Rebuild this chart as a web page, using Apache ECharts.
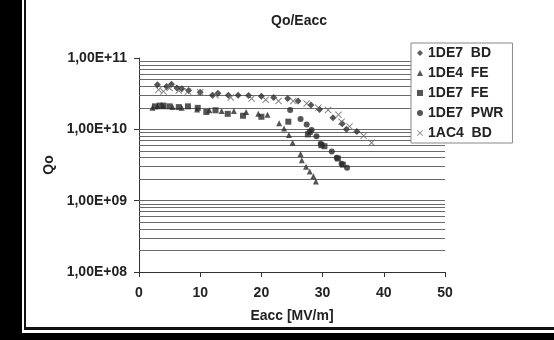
<!DOCTYPE html>
<html><head><meta charset="utf-8">
<script src="https://cdn.jsdelivr.net/npm/echarts@6/dist/echarts.min.js"></script>
<style>html,body{margin:0;padding:0;background:#fff}#c{width:554px;height:340px}</style>
</head><body><div id="c"></div>
<script>
// ---- data ----
const xTicks = [0, 10, 20, 30, 40, 50];
const yTickLabels = {8: '1,00E+08', 9: '1,00E+09', 10: '1,00E+10', 11: '1,00E+11'};
const seriesNames = ['1DE7  BD', '1DE4  FE', '1DE7  FE', '1DE7  PWR', '1AC4  BD'];

const bdDE7_E = [3.0, 4.5, 5.3, 6.2, 7.0, 8.1, 10.0, 12.0, 12.9, 14.6, 16.2, 17.9, 20.0, 22.0, 24.3, 26.0, 28.1, 29.5, 31.7, 33.2, 33.9, 35.6];
const bdDE7_Q = [4.2e10, 4.0e10, 4.3e10, 3.8e10, 3.7e10, 3.5e10, 3.3e10, 3.0e10, 3.2e10, 3.0e10, 3.0e10, 2.97e10, 2.9e10, 2.8e10, 2.7e10, 2.5e10, 2.2e10, 1.9e10, 1.45e10, 1.2e10, 1.0e10, 9.3e9];

const feDE4_E = [2.2, 3.0, 4.0, 5.5, 7.0, 9.5, 11.5, 13.5, 15.5, 17.5, 19.5, 21.0, 22.9, 23.7, 24.5, 25.1, 26.4, 26.6, 27.3, 27.9, 28.5, 28.9];
const feDE4_Q = [2.0e10, 2.1e10, 2.1e10, 2.05e10, 2.0e10, 1.9e10, 1.85e10, 1.8e10, 1.8e10, 1.75e10, 1.65e10, 1.6e10, 1.22e10, 1.03e10, 8.3e9, 6.5e9, 4.5e9, 3.7e9, 3.0e9, 2.57e9, 2.2e9, 1.86e9];

const feDE7_E = [2.6, 3.4, 4.0, 5.0, 6.5, 8.0, 9.6, 11.0, 12.5, 14.5, 17.0, 20.0, 24.4, 27.6, 27.9, 29.8, 30.3, 32.5, 33.3];
const feDE7_Q = [2.1e10, 2.15e10, 2.15e10, 2.1e10, 2.05e10, 2.1e10, 2.0e10, 1.75e10, 1.85e10, 1.65e10, 1.55e10, 1.5e10, 1.28e10, 8.5e9, 9.2e9, 6.0e9, 5.8e9, 3.9e9, 3.2e9];

const pwrDE7_E = [24.7, 26.4, 27.4, 28.2, 29.0, 29.7, 31.5, 32.3, 33.1, 34.0];
const pwrDE7_Q = [1.86e10, 1.4e10, 1.17e10, 9.8e9, 8.0e9, 6.3e9, 4.9e9, 4.0e9, 3.3e9, 2.9e9];

const bdAC4_E = [3.2, 4.0, 5.0, 6.5, 8.0, 10.0, 12.5, 15.0, 18.4, 20.7, 22.8, 25.2, 27.4, 29.3, 30.9, 32.6, 33.1, 34.4, 36.7, 38.0];
const bdAC4_Q = [3.6e10, 3.4e10, 3.8e10, 3.5e10, 3.4e10, 3.3e10, 3.0e10, 2.8e10, 2.7e10, 2.6e10, 2.5e10, 2.5e10, 2.3e10, 2.0e10, 1.87e10, 1.6e10, 1.28e10, 1.1e10, 8.1e9, 6.5e9];

const gridMultipliers = [2, 3, 4, 5, 6, 7, 8, 9];
const gridDecades = [8, 9, 10];
// ---- end data ----

const zip = (a, b) => a.map((v, i) => [v, b[i]]);
const gridVals = [];
gridDecades.forEach(d => gridMultipliers.forEach(m => gridVals.push(m * Math.pow(10, d))));
gridVals.push(1e9, 1e10);

const xPath = 'path://M0,1 L1,0 L5,4 L9,0 L10,1 L6,5 L10,9 L9,10 L5,6 L1,10 L0,9 L4,5 Z';
const font = '"Liberation Sans", Arial, sans-serif';

const chart = echarts.init(document.getElementById('c'), null, {renderer: 'canvas'});
chart.setOption({
  animation: false,
  backgroundColor: '#fff',
  graphic: [
    {type: 'rect', shape: {x: 0, y: 0, width: 22, height: 340}, style: {fill: '#000'}, z: 100},
    {type: 'rect', shape: {x: 24, y: 0, width: 2, height: 330}, style: {fill: '#111'}, z: 100},
    {type: 'rect', shape: {x: 24, y: 327, width: 530, height: 3}, style: {fill: '#111'}, z: 100},
    {type: 'rect', shape: {x: 0, y: 333, width: 554, height: 7}, style: {fill: '#000'}, z: 100}
  ],
  title: {
    text: 'Qo/Eacc', left: 266, top: 9,
    textStyle: {fontFamily: font, fontSize: 14, fontWeight: 'bold', color: '#222'}
  },
  legend: {
    orient: 'vertical', left: 411, top: 43,
    padding: [3, 9, 3, 6], itemGap: 6, itemWidth: 6, itemHeight: 6,
    backgroundColor: '#fff', borderColor: '#888', borderWidth: 1,
    textStyle: {fontFamily: font, fontSize: 14, fontWeight: 'bold', color: '#222', lineHeight: 14},
    data: [
      {name: seriesNames[0], icon: 'diamond', itemStyle: {color: '#333'}},
      {name: seriesNames[1], icon: 'triangle'},
      {name: seriesNames[2], icon: 'rect'},
      {name: seriesNames[3], icon: 'circle'},
      {name: seriesNames[4], icon: xPath}
    ],
    z: 50
  },
  grid: {left: 139, right: 109, top: 58, bottom: 68},
  xAxis: {
    type: 'value', min: 0, max: 50, interval: 10,
    name: 'Eacc [MV/m]', nameLocation: 'middle', nameGap: 37,
    nameTextStyle: {fontFamily: font, fontSize: 14, fontWeight: 'bold', color: '#222'},
    axisLine: {lineStyle: {color: '#333', width: 1}},
    axisTick: {show: true, length: 5, lineStyle: {color: '#333'}},
    axisLabel: {margin: 14, fontFamily: font, fontSize: 14, fontWeight: 'bold', color: '#222',
      formatter: v => xTicks.includes(v) ? String(v) : ''},
    splitLine: {show: false}
  },
  yAxis: {
    type: 'log', logBase: 10, min: 1e8, max: 1e11,
    name: 'Qo', nameLocation: 'middle', nameGap: 82, nameRotate: 90,
    nameTextStyle: {fontFamily: font, fontSize: 14, fontWeight: 'bold', color: '#222'},
    axisLine: {show: true, lineStyle: {color: '#333', width: 1}},
    axisTick: {show: true, length: 5, lineStyle: {color: '#333'}},
    axisLabel: {margin: 12, fontFamily: font, fontSize: 14, fontWeight: 'bold', color: '#222',
      formatter: v => yTickLabels[Math.round(Math.log10(v))] || ''},
    splitLine: {show: false}
  },
  series: [
    {
      name: '_grid', type: 'line', data: [], z: 1, silent: true,
      markLine: {
        silent: true, symbol: 'none', label: {show: false}, animation: false,
        lineStyle: {color: '#6a6a6a', width: 1, type: 'solid'},
        data: gridVals.map(v => ({yAxis: v}))
      }
    },
    {name: seriesNames[0], type: 'scatter', data: zip(bdDE7_E, bdDE7_Q), symbol: 'diamond', symbolSize: 7, itemStyle: {color: '#2a2a2a'}, z: 5},
    {name: seriesNames[1], type: 'scatter', data: zip(feDE4_E, feDE4_Q), symbol: 'triangle', symbolSize: 6, itemStyle: {color: '#2a2a2a'}, z: 5},
    {name: seriesNames[2], type: 'scatter', data: zip(feDE7_E, feDE7_Q), symbol: 'rect', symbolSize: 6, itemStyle: {color: '#2a2a2a'}, z: 5},
    {name: seriesNames[3], type: 'scatter', data: zip(pwrDE7_E, pwrDE7_Q), symbol: 'circle', symbolSize: 6, itemStyle: {color: '#2a2a2a'}, z: 5},
    {name: seriesNames[4], type: 'scatter', data: zip(bdAC4_E, bdAC4_Q), symbol: xPath, symbolSize: 7, itemStyle: {color: '#666'}, z: 5}
  ]
});
</script>
</body></html>
